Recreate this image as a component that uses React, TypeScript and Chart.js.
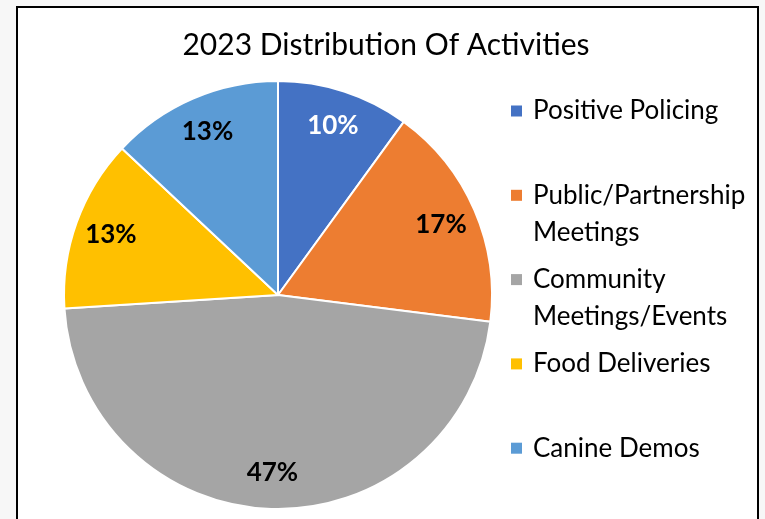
import React, { useEffect, useRef } from "react";
import { Chart, registerables } from "chart.js";

Chart.register(...registerables);

const chartTitle = "2023 Distribution Of Activities";
const categories = [
  "Positive Policing",
  "Public/Partnership Meetings",
  "Community Meetings/Events",
  "Food Deliveries",
  "Canine Demos",
];
const legendLines = [
  ["Positive Policing"],
  ["Public/Partnership", "Meetings"],
  ["Community", "Meetings/Events"],
  ["Food Deliveries"],
  ["Canine Demos"],
];
const shares = [10, 17, 47, 13, 13];
const sliceColors = ["#4472C4", "#ED7D31", "#A5A5A5", "#FFC000", "#5B9BD5"];
const labelColors = ["#FFFFFF", "#000000", "#000000", "#000000", "#000000"];

const FONT = "Lato, 'Open Sans', sans-serif";

const overlayPlugin = {
  id: "overlay",
  afterDraw(chart: any) {
    const ctx = chart.ctx as CanvasRenderingContext2D;
    ctx.save();
    // title
    ctx.fillStyle = "#000";
    ctx.font = `30px ${FONT}`;
    ctx.textAlign = "center";
    ctx.textBaseline = "middle";
    ctx.fillText(chartTitle, 386, 45);

    // slice labels
    const meta = chart.getDatasetMeta(0);
    const data = chart.data.datasets[0].data as number[];
    const total = data.reduce((a, b) => a + b, 0);
    ctx.font = `bold 26px ${FONT}`;
    meta.data.forEach((arc: any, i: number) => {
      const p = arc.getProps(["x", "y", "startAngle", "endAngle", "outerRadius"], true);
      const mid = (p.startAngle + p.endAngle) / 2;
      const r = p.outerRadius * 0.83;
      const x = p.x + Math.cos(mid) * r;
      const y = p.y + Math.sin(mid) * r;
      ctx.fillStyle = labelColors[i];
      ctx.fillText(Math.round((data[i] / total) * 100) + "%", x, y);
    });

    // legend
    ctx.textAlign = "left";
    ctx.font = `26px ${FONT}`;
    const top = 111;
    const step = 84.3;
    const lh = 37;
    legendLines.forEach((lines, i) => {
      const y0 = top + i * step;
      ctx.fillStyle = sliceColors[i];
      ctx.fillRect(511, y0 - 5.5, 11, 11);
      ctx.fillStyle = "#000";
      lines.forEach((t, j) => ctx.fillText(t, 533, y0 + j * lh));
    });
    ctx.restore();
  },
};

export default function App() {
  const ref = useRef<HTMLCanvasElement>(null);
  useEffect(() => {
    document.body.style.margin = "0";
    const chart = new Chart(ref.current!, {
      type: "pie",
      data: {
        labels: categories,
        datasets: [
          {
            data: shares,
            backgroundColor: sliceColors,
            borderColor: "#FFFFFF",
            borderWidth: 2,
          },
        ],
      },
      options: {
        responsive: false,
        animation: false,
        devicePixelRatio: 1,
        layout: { padding: { left: 63, right: 272, top: 80, bottom: 9 } },
        plugins: {
          legend: { display: false },
          title: { display: false },
          tooltip: { enabled: false },
        },
      },
      plugins: [overlayPlugin],
    });
    return () => chart.destroy();
  }, []);
  return (
    <div style={{ position: "relative", width: 765, height: 519, overflow: "hidden", background: "#f7f7f7" }}>
      <div
        style={{
          position: "absolute",
          left: 16,
          top: 6,
          width: 739,
          height: 600,
          border: "2px solid #000",
          background: "#fff",
        }}
      />
      <canvas ref={ref} width={765} height={519} style={{ position: "absolute", left: 0, top: 0 }} />
    </div>
  );
}
